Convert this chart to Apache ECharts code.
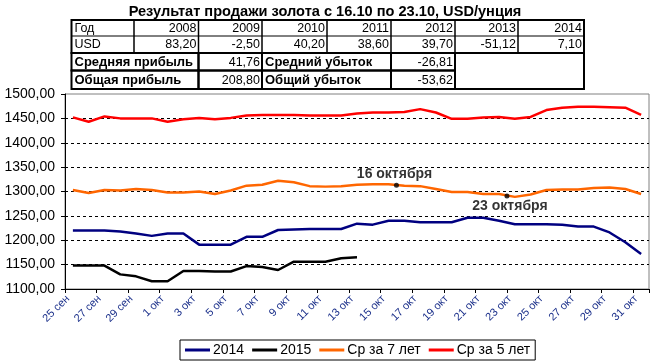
<!DOCTYPE html>
<html><head><meta charset="utf-8">
<script src="https://cdn.jsdelivr.net/npm/echarts@6/dist/echarts.min.js"></script>
<style>html,body{margin:0;padding:0;background:#fff}#c{width:650px;height:362px}</style>
</head><body><div id="c"></div>
<script>
// ---- data ----
const categories = ['25 сен','26 сен','27 сен','28 сен','29 сен','30 сен',
  '1 окт','2 окт','3 окт','4 окт','5 окт','6 окт','7 окт','8 окт','9 окт','10 окт',
  '11 окт','12 окт','13 окт','14 окт','15 окт','16 окт','17 окт','18 окт','19 окт','20 окт',
  '21 окт','22 окт','23 окт','24 окт','25 окт','26 окт','27 окт','28 окт','29 окт','30 окт','31 окт'];
const seriesNames = ['2014','2015','Ср за 7 лет','Ср за 5 лет'];
const s2014 = [1220,1220,1220,1218,1214,1209,1214,1214,1191,1191,1191,1207,1207,1221,1222,1223,1223,1223,1234,1232,1240,1240,1237,1237,1237,1246,1246,1240,1233,1233,1233,1232,1228,1228,1216,1196,1172];
const s2015 = [1148,1148,1148,1130,1126,1116,1116,1137,1137,1136,1136,1147,1145,1139,1156,1156,1156,1163,1165];
const sAvg7 = [1303,1297,1303,1302,1305,1303,1298,1298,1300,1295,1302,1312,1314,1322,1319,1311,1310,1311,1314,1315,1315,1312,1311,1305,1299,1299,1295,1295,1289,1294,1303,1304,1304,1307,1308,1305,1295];
const sAvg5 = [1452,1443,1454,1450,1450,1450,1443,1448,1451,1448,1451,1456,1457,1457,1457,1456,1456,1456,1460,1462,1462,1463,1469,1462,1449,1449,1452,1453,1449,1453,1467,1472,1474,1474,1473,1472,1457];
const yTicks = [1100,1150,1200,1250,1300,1350,1400,1450,1500];
const annotDates = ['16 окт','23 окт'];
const annotValues = [1313,1291];
const annotLabels = ['16 октября','23 октября'];
const titleText = 'Результат продажи золота с 16.10 по 23.10, USD/унция';
const tableYears = ['2008','2009','2010','2011','2012','2013','2014'];
const tableUsd = [83.20,-2.50,40.20,38.60,39.70,-51.12,7.10];
const avgProfit = 41.76, totalProfit = 208.80, avgLoss = -26.81, totalLoss = -53.62;

// ---- helpers ----
const FONT = '"Liberation Sans", Arial, sans-serif';
const fmt = v => v.toFixed(2).replace('.', ',');
const colors = ['#000080','#000000','#FF6600','#FF0000'];

// ---- table via graphic ----
const colX = [71.5,134,198.5,262,327,391,455,518,584];
const rowY = [20,36,53,70.5,89];
const g = [];
function rect(x1,y1,x2,y2,lw){ g.push({type:'rect',silent:true,shape:{x:x1,y:y1,width:x2-x1,height:y2-y1},style:{fill:'none',stroke:'#000',lineWidth:lw}}); }
function line(x1,y1,x2,y2,lw){ g.push({type:'line',silent:true,shape:{x1:x1,y1:y1,x2:x2,y2:y2},style:{stroke:'#000',lineWidth:lw}}); }
function txt(t,x,y,align,bold){ g.push({type:'text',silent:true,x:x,y:y,style:{text:t,fill:'#000',font:(bold?'bold 13px ':'12.5px ')+FONT,align:align,verticalAlign:'middle'}}); }
// rows 1-2
for (let i=1;i<colX.length-1;i++) line(colX[i],rowY[0],colX[i],rowY[2],1.5);
line(colX[0],rowY[1],colX[8],rowY[1],1);
rect(colX[0],rowY[0],colX[8],rowY[2],2);
const cy1 = (rowY[0]+rowY[1])/2+0.5, cy2 = (rowY[1]+rowY[2])/2+0.5;
txt('Год', colX[0]+3, cy1, 'left', false);
txt('USD', colX[0]+3, cy2, 'left', false);
tableYears.forEach((y,i)=>{ txt(y, colX[i+2]-2, cy1, 'right', false); });
tableUsd.forEach((v,i)=>{ txt(fmt(v), colX[i+2]-2, cy2, 'right', false); });
// rows 3-4
[[rowY[2],rowY[3]],[rowY[3],rowY[4]]].forEach(r=>{
  rect(colX[0],r[0],colX[2],r[1],2);
  rect(colX[2],r[0],colX[3],r[1],2);
  rect(colX[3],r[0],colX[5],r[1],2);
  rect(colX[5],r[0],colX[6],r[1],2);
});
rect(colX[6],rowY[2],colX[8],rowY[4],2);
const cy3 = (rowY[2]+rowY[3])/2+0.5, cy4 = (rowY[3]+rowY[4])/2+0.5;
txt('Средняя прибыль', colX[0]+3, cy3, 'left', true);
txt(fmt(avgProfit), colX[3]-2, cy3, 'right', false);
txt('Средний убыток', colX[3]+3, cy3, 'left', true);
txt(fmt(avgLoss), colX[6]-2, cy3, 'right', false);
txt('Общая прибыль', colX[0]+3, cy4, 'left', true);
txt(fmt(totalProfit), colX[3]-2, cy4, 'right', false);
txt('Общий убыток', colX[3]+3, cy4, 'left', true);
txt(fmt(totalLoss), colX[6]-2, cy4, 'right', false);

const lineData = [s2014, s2015, sAvg7, sAvg5];
const series = seriesNames.map((n,i)=>({
  name:n, type:'line', data:lineData[i], symbol:'none', showSymbol:false,
  lineStyle:{color:colors[i], width:2.5}, itemStyle:{color:colors[i]},
  xAxisIndex:0, yAxisIndex:0, z:3
}));
series.push({
  type:'scatter', xAxisIndex:1, yAxisIndex:0, symbolSize:5, itemStyle:{color:'#000'}, z:5,
  data: annotDates.map((d,i)=>({
    name: annotLabels[i],
    value: [categories.indexOf(d), annotValues[i]],
    label: i===0 ? {position:'top', distance:2, offset:[-2,0]} : {position:'bottom', distance:1, offset:[3,0]}
  })),
  label:{show:true, formatter:p=>p.name, color:'#000', fontWeight:'bold', fontSize:14, fontFamily:FONT}
});

const option = {
  animation:false,
  backgroundColor:'#fff',
  title:{text:titleText, left:'center', top:-1, textStyle:{fontSize:14.6, fontWeight:'bold', color:'#000', fontFamily:FONT}},
  grid:{left:65, right:1, top:94, bottom:73, show:true, borderColor:'#808080', borderWidth:1, backgroundColor:'#fff'},
  legend:{
    data:seriesNames, bottom:2, left:180, icon:'rect', itemWidth:25, itemHeight:3, itemGap:8,
    borderColor:'#000', borderWidth:1, padding:[3,5], borderRadius:0,
    textStyle:{fontSize:14, color:'#000', fontFamily:FONT, padding:[0,0,0,-2]}
  },
  xAxis:[{
    type:'category', data:categories, boundaryGap:true,
    axisLine:{show:true, lineStyle:{color:'#000', width:1}},
    axisTick:{show:true, interval:1, length:4, lineStyle:{color:'#000'}},
    axisLabel:{interval:1, rotate:45, fontSize:11, color:'#1a2f8a', fontFamily:FONT, margin:3, padding:[0,7,0,0]},
    splitLine:{show:false}
  },{
    type:'value', min:0, max:categories.length, show:false
  }],
  yAxis:{
    type:'value', min:yTicks[0], max:yTicks[yTicks.length-1], interval:50,
    axisLine:{show:true, lineStyle:{color:'#000', width:1}},
    axisTick:{show:true, length:4, lineStyle:{color:'#000'}},
    axisLabel:{formatter:v=>fmt(v), fontSize:14, color:'#000', fontFamily:FONT, margin:10},
    splitLine:{show:true, showMinLine:false, showMaxLine:false, lineStyle:{color:'#000', type:[3,3], width:1}}
  },
  graphic:g,
  series:series
};
const chart = echarts.init(document.getElementById('c'));
chart.setOption(option);
</script>
</body></html>
